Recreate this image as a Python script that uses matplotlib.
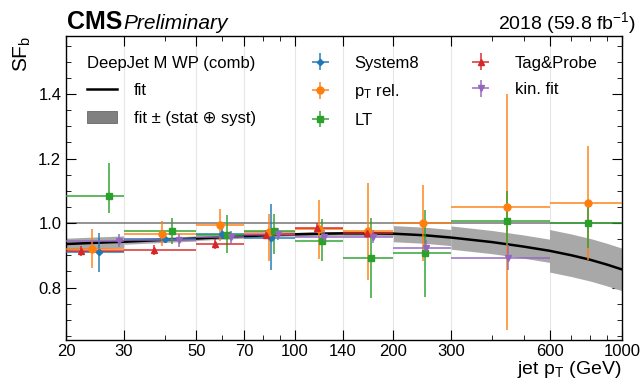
import numpy as np
import matplotlib
matplotlib.use("Agg")
import matplotlib.pyplot as plt
from matplotlib.patches import Patch
from matplotlib.lines import Line2D
from matplotlib.ticker import FixedLocator, NullFormatter, LogLocator

plt.rcParams['font.family'] = ['Liberation Sans', 'DejaVu Sans']
plt.rcParams['mathtext.fontset'] = 'custom'
plt.rcParams['mathtext.rm'] = 'Liberation Sans'
plt.rcParams['mathtext.it'] = 'Liberation Sans:italic'

# pt bins
bin_edges = [20, 30, 50, 70, 100, 140, 200, 300, 600, 1000]
band_halfwidth = [0.018, 0.008, 0.006, 0.005, 0.006, 0.007, 0.025, 0.036, 0.066]

# fit curve
fit_pt = [20, 25, 30, 40, 50, 60, 70, 85, 100, 120, 140, 170, 200, 250, 300,
          400, 500, 600, 700, 800, 900, 1000]
fit_sf = [0.935, 0.939, 0.942, 0.948, 0.952, 0.956, 0.959, 0.963, 0.965, 0.967,
          0.968, 0.968, 0.967, 0.962, 0.955, 0.941, 0.927, 0.914, 0.900, 0.886,
          0.871, 0.856]

# System8
s8_bins = [0, 1, 2, 3]
s8_pt = [25.2, 40.1, 60.0, 84.6]
s8_sf = [0.909, 0.952, 0.967, 0.955]
s8_up = [0.060, 0.015, 0.015, 0.105]
s8_dn = [0.060, 0.015, 0.015, 0.101]

# pT rel.
ptrel_bins = [0, 1, 2, 3, 4, 5, 6, 7, 8]
ptrel_pt = [24.0, 39.2, 58.9, 83.6, 118.9, 167.7, 245.9, 444.2, 785.0]
ptrel_sf = [0.921, 0.966, 0.994, 0.972, 0.983, 0.974, 0.999, 1.049, 1.062]
ptrel_up = [0.060, 0.040, 0.050, 0.056, 0.089, 0.149, 0.120, 0.350, 0.178]
ptrel_dn = [0.060, 0.036, 0.050, 0.089, 0.093, 0.152, 0.118, 0.380, 0.177]

# LT
lt_bins = [0, 1, 2, 3, 4, 5, 6, 7, 8]
lt_pt = [27.1, 42.2, 61.9, 86.6, 121.1, 170.6, 249.0, 445.0, 788.0]
lt_sf = [1.085, 0.974, 0.963, 0.974, 0.945, 0.893, 0.906, 1.005, 0.999]
lt_up = [0.100, 0.043, 0.063, 0.055, 0.067, 0.124, 0.135, 0.095, 0.060]
lt_dn = [0.053, 0.039, 0.056, 0.070, 0.062, 0.125, 0.134, 0.073, 0.075]

# Tag&Probe
tp_bins = [0, 1, 2, 3, 4, 5]
tp_pt = [22.2, 37.1, 57.0, 81.7, 116.7, 165.9]
tp_sf = [0.914, 0.917, 0.935, 0.964, 0.984, 0.969]
tp_up = [0.016, 0.015, 0.014, 0.015, 0.016, 0.016]
tp_dn = [0.016, 0.015, 0.014, 0.015, 0.016, 0.016]

# kin. fit
kf_bins = [0, 1, 2, 3, 4, 5, 6, 7]
kf_pt = [29.1, 44.1, 63.9, 88.7, 123.1, 173.0, 251.8, 447.0]
kf_sf = [0.945, 0.946, 0.956, 0.966, 0.957, 0.958, 0.922, 0.893]
kf_up = [0.020, 0.020, 0.020, 0.020, 0.020, 0.020, 0.025, 0.040]
kf_dn = [0.020, 0.020, 0.020, 0.020, 0.020, 0.020, 0.025, 0.040]

methods = [
    ("System8", s8_bins, s8_pt, s8_sf, s8_up, s8_dn, "#1f77b4", "D", 3.2),
    ("$\\mathregular{p_T}$ rel.", ptrel_bins, ptrel_pt, ptrel_sf, ptrel_up, ptrel_dn, "#ff7f0e", "o", 5),
    ("LT", lt_bins, lt_pt, lt_sf, lt_up, lt_dn, "#2ca02c", "s", 5),
    ("Tag&Probe", tp_bins, tp_pt, tp_sf, tp_up, tp_dn, "#d62728", "^", 5),
    ("kin. fit", kf_bins, kf_pt, kf_sf, kf_up, kf_dn, "#9467bd", "v", 5),
]

fig = plt.figure(figsize=(6.42, 3.83), dpi=100)
ax = fig.add_axes([0.103, 0.112, 0.866, 0.794])
ax.set_xscale('log')

for e in bin_edges[1:-1]:
    ax.axvline(e, color='#e6e6e6', lw=0.8, zorder=0)
ax.axhline(1.0, color='grey', lw=1.2, zorder=1)

fpt = np.array(fit_pt, dtype=float)
fsf = np.array(fit_sf)
for i in range(len(bin_edges) - 1):
    lo, hi = bin_edges[i], bin_edges[i + 1]
    m = (fpt >= lo) & (fpt <= hi)
    ax.fill_between(fpt[m], fsf[m] - band_halfwidth[i], fsf[m] + band_halfwidth[i],
                    color='#a8a8a8', lw=0, zorder=2)
ax.plot(fit_pt, fit_sf, color='black', lw=1.8, zorder=3)

handles = []
for label, bins, pt, sf, up, dn, col, mk, ms in methods:
    pt = np.array(pt)
    lo = np.array([bin_edges[b] for b in bins])
    hi = np.array([bin_edges[b + 1] for b in bins])
    rgba = matplotlib.colors.to_rgba(col, 0.75)
    h = ax.errorbar(pt, sf, xerr=[pt - lo, hi - pt], yerr=[dn, up], fmt=mk, color=col,
                    ecolor=rgba, elinewidth=1.4, ms=ms, capsize=0, zorder=4, label=label)
    handles.append(h)

ax.set_xlim(20, 1000)
ax.set_ylim(0.637, 1.58)
ax.xaxis.set_major_locator(FixedLocator([20, 30, 50, 70, 100, 140, 200, 300, 600, 1000]))
ax.set_xticklabels(["20", "30", "50", "70", "100", "140", "200", "300", "600", "1000"])
ax.xaxis.set_minor_locator(LogLocator(base=10, subs=np.arange(2, 10)))
ax.xaxis.set_minor_formatter(NullFormatter())
ax.set_yticks([0.8, 1.0, 1.2, 1.4])
ax.set_yticklabels(["0.8", "1.0", "1.2", "1.4"])
ax.set_yticks(np.arange(0.65, 1.58, 0.05), minor=True)
ax.tick_params(which='both', direction='in', top=True, right=True, labelsize=12)
ax.tick_params(which='major', length=7)
ax.tick_params(which='minor', length=3.5)
ax.tick_params(axis='x', which='major', pad=3)
for s in ax.spines.values():
    s.set_linewidth(1.0)

ax.set_ylabel("SF$_\\mathregular{b}$", fontsize=15, loc='top')
ax.set_xlabel("jet $\\mathregular{p_T}$ (GeV)", fontsize=14, loc='right', labelpad=0)

fig.text(0.104, 0.925, "CMS", fontsize=18, fontweight='bold', ha='left', va='baseline')
fig.text(0.192, 0.925, "Preliminary", fontsize=15, style='italic', ha='left', va='baseline')
fig.text(0.991, 0.925, "2018 (59.8 fb$^{-1}$)", fontsize=14, ha='right', va='baseline')

fit_h = Line2D([], [], color='black', lw=1.8)
band_h = Patch(facecolor='grey', edgecolor='#555555', lw=0.5)
leg1 = ax.legend([fit_h, band_h], ["fit", "fit ± (stat ⊕ syst)"], loc='upper left',
                 bbox_to_anchor=(0.01, 0.985), frameon=False, fontsize=12,
                 title="DeepJet M WP (comb)", title_fontsize=12, alignment='left',
                 handlelength=1.8, labelspacing=0.75, handletextpad=1.05)
ax.add_artist(leg1)
ax.legend(handles=handles, loc='upper left', bbox_to_anchor=(0.40, 0.985), ncol=2,
          frameon=False, fontsize=12, handlelength=2.0, labelspacing=0.7,
          columnspacing=2.7, handletextpad=1.05)

fig.savefig("out.png", dpi=100)
